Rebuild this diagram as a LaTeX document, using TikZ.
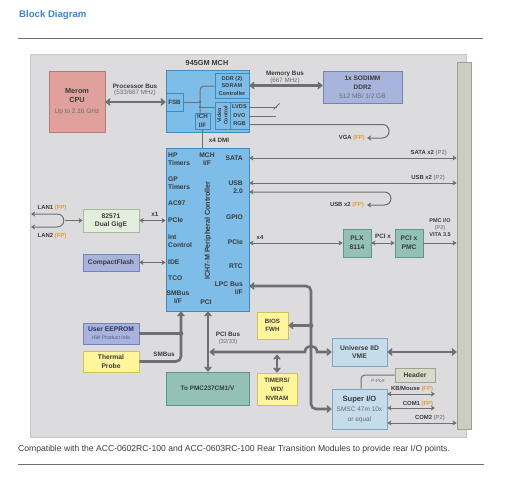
\documentclass[tikz,border=0pt]{standalone}
\usepackage{fontspec}
\setmainfont{Liberation Sans}
\usetikzlibrary{arrows.meta}
\definecolor{txt}{HTML}{3A3A3A}
\definecolor{sub}{HTML}{6B6B6B}
\definecolor{fpc}{HTML}{E49A3C}
\definecolor{ptc}{HTML}{8C8C8C}
\definecolor{ln}{HTML}{6E6F72}
\definecolor{ttl}{HTML}{3D85C6}
\definecolor{panel}{HTML}{DCDCDE}
\definecolor{panelbd}{HTML}{C6C6C8}
\definecolor{barf}{HTML}{CBCDC0}
\definecolor{barbd}{HTML}{9FA195}
\definecolor{cpuf}{HTML}{E0A19D}
\definecolor{cpubd}{HTML}{B57A76}
\definecolor{ichf}{HTML}{7DBDE8}
\definecolor{ichbd}{HTML}{3F8DBE}
\definecolor{lavf}{HTML}{A8B4DC}
\definecolor{lavbd}{HTML}{7483B4}
\definecolor{grnf}{HTML}{E4EEDD}
\definecolor{grnbd}{HTML}{A9B8A2}
\definecolor{yelf}{HTML}{FFF59A}
\definecolor{yelbd}{HTML}{CFC062}
\definecolor{tealf}{HTML}{93C2B5}
\definecolor{tealbd}{HTML}{5F9686}
\definecolor{lbf}{HTML}{C4DCEC}
\definecolor{lbbd}{HTML}{7FA6C0}
\definecolor{hdrf}{HTML}{D8DBCB}
\definecolor{hdrbd}{HTML}{9EA290}
\newcommand\FPtag{{\color{fpc}(FP)}}
\newcommand\PTtag{{\color{ptc}(P2)}}
\begin{document}
\begin{tikzpicture}[x=1pt,y=-1pt,
  blk/.style={draw, line width=0.8pt, inner sep=0pt, align=center, text=txt,
    font=\fontsize{6.7}{8}\selectfont\bfseries},
  ichtxt/.style={inner sep=0pt, text=txt, font=\fontsize{6.7}{8}\selectfont\bfseries},
  lab/.style={inner sep=0pt, text=txt, align=center, font=\fontsize{5.9}{7}\selectfont\bfseries},
  thn/.style={draw=ln, line width=1pt},
  thk/.style={draw=ln, line width=2.6pt},
  tp/.tip={Stealth[length=4pt,width=5pt,inset=1pt]},
  tT/.tip={Stealth[length=6pt,width=9.5pt,inset=2pt,round]},
]
\useasboundingbox (0,0) rectangle (507,479);
% header / footer
\node[anchor=west, inner sep=0pt, text=ttl, font=\fontsize{9.6}{11}\selectfont\bfseries] (title) at (19,15) {Block Diagram};
\coordinate (r1a) at (18,38); \coordinate (r1b) at (483,38);
\draw[ln, line width=1pt] (r1a) -- (r1b);
\node[anchor=west, inner sep=0pt, text=txt, font=\fontsize{8.6}{10}\selectfont] (caption) at (18,449) {Compatible with the ACC-0602RC-100 and ACC-0603RC-100 Rear Transition Modules to provide rear I/O points.};
\coordinate (r2a) at (18,464); \coordinate (r2b) at (484,464);
\draw[ln, line width=1pt] (r2a) -- (r2b);
% panel and backplane bar
\node[draw=panelbd, fill=panel, line width=0.8pt, minimum width=436pt, minimum height=383pt, inner sep=0pt] (panel) at (248,245.5) {};
\node[draw=barbd, fill=barf, line width=0.8pt, minimum width=14pt, minimum height=367pt, inner sep=0pt] (bar) at (464,245.5) {};
% CPU
\node[blk, draw=cpubd, fill=cpuf, minimum width=56pt, minimum height=61pt, font=\fontsize{7.3}{9}\selectfont\bfseries] (cpu) at (77,102)
  {Merom\\CPU\\[2pt]\fontsize{6.5}{8}\selectfont\mdseries\color{sub}Up to 2.16 GHz};
% MCH
\node[blk, draw=ichbd, fill=ichf, minimum width=83pt, minimum height=62pt] (mch) at (207.5,101) {};
\node[lab, font=\fontsize{7.3}{8}\selectfont\bfseries] (mchlbl) at (207,63) {945GM MCH};
\node[blk, draw=ichbd, fill=ichf, minimum width=17pt, minimum height=18pt, font=\fontsize{6.2}{7}\selectfont\bfseries] (fsb) at (174.5,102) {FSB};
\node[blk, draw=ichbd, fill=ichf, minimum width=34pt, minimum height=25pt, font=\fontsize{5.6}{7.5}\selectfont\bfseries] (ddr) at (232,85.5) {DDR (2)\\SDRAM\\Controller};
\node[blk, draw=ichbd, fill=ichf, minimum width=15pt, minimum height=27pt] (video) at (222.5,115.5) {};
\node[lab, rotate=90, font=\fontsize{5.3}{6.3}\selectfont\bfseries] (videotxt) at (222.5,115.5) {Video\\Control};
\node[blk, draw=ichbd, fill=ichf, minimum width=19pt, minimum height=27pt, font=\fontsize{5.6}{8.5}\selectfont\bfseries] (vout) at (239.5,115.5) {LVDS\\DVO\\RGB};
\node[blk, draw=ichbd, fill=ichf, minimum width=15pt, minimum height=16pt, font=\fontsize{6.2}{8.5}\selectfont\bfseries] (ichif) at (202.5,121) {ICH\\I/F};
% MCH internal wiring
\coordinate (j1) at (200,102); \coordinate (j2) at (200,107);
\draw[thn] (fsb.east) -- (j1);
\draw[thn, rounded corners=4pt] (ddr.west |- 0,86) -- (200,86) -- (ichif.north -| j1);
\draw[thn] (j2) -- (video.west |- j2);
\fill[ln] (j1) circle (1.4); \fill[ln] (j2) circle (1.4);
% SODIMM
\node[blk, draw=lavbd, fill=lavf, minimum width=79pt, minimum height=32pt, font=\fontsize{6.5}{9}\selectfont\bfseries] (sodimm) at (362.5,87)
  {1x SODIMM\\DDR2\\{\mdseries\color{sub}512 MB/ 1/2 GB}};
% ICH7
\node[blk, draw=ichbd, fill=ichf, minimum width=83pt, minimum height=163pt] (ich7) at (207.5,229.5) {};
\node[ichtxt, rotate=90, font=\fontsize{7.2}{8}\selectfont\bfseries] (ichname) at (208,230.5) {ICH7-M Peripheral Controller};
\node[ichtxt, anchor=west, align=left] (t1) at (168,159) {HP\\Timers};
\node[ichtxt, anchor=west, align=left] (t2) at (168,183) {GP\\Timers};
\node[ichtxt, anchor=west] (t3) at (168,203) {AC97};
\node[ichtxt, anchor=west] (t4) at (168,220.5) {PCIe};
\node[ichtxt, anchor=west, align=left] (t5) at (168,241) {Int\\Control};
\node[ichtxt, anchor=west] (t6) at (168,262.5) {IDE};
\node[ichtxt, anchor=west] (t7) at (168,278) {TCO};
\node[ichtxt, align=center] (t8) at (178,297) {SMBus\\I/F};
\node[ichtxt, align=center] (t9) at (207,159) {MCH\\I/F};
\node[ichtxt] (t10) at (206,302) {PCI};
\node[ichtxt, anchor=east] (t11) at (243,158) {SATA};
\node[ichtxt, anchor=east, align=right] (t12) at (243,187.5) {USB\\2.0};
\node[ichtxt, anchor=east] (t13) at (243,217) {GPIO};
\node[ichtxt, anchor=east] (t14) at (243,242) {PCIe};
\node[ichtxt, anchor=east] (t15) at (243,266.5) {RTC};
\node[ichtxt, anchor=east, align=right] (t16) at (243,288) {LPC Bus\\I/F};
% left devices
\node[blk, draw=grnbd, fill=grnf, minimum width=56pt, minimum height=23pt] (gige) at (111,220.5) {82571\\Dual GigE};
\node[blk, draw=lavbd, fill=lavf, minimum width=56pt, minimum height=17pt] (cf) at (111,262.5) {CompactFlash};
\node[blk, draw=lavbd, fill=lavf, minimum width=56pt, minimum height=21pt] (eeprom) at (111,333.5)
  {{\color{txt!80!blue}User EEPROM}\\{\fontsize{5.2}{6}\selectfont\mdseries\color{sub!80!blue}HW Product Info}};
\node[blk, draw=yelbd, fill=yelf, minimum width=56pt, minimum height=21pt, font=\fontsize{6.7}{9}\selectfont\bfseries] (thermal) at (111,361.5) {Thermal\\Probe};
\node[blk, draw=tealbd, fill=tealf, minimum width=83pt, minimum height=33pt, font=\fontsize{6.4}{8}\selectfont\bfseries] (pmc) at (207.5,388.5) {To PMC237CM1/V};
% right devices
\node[blk, draw=tealbd, fill=tealf, minimum width=28pt, minimum height=28pt, font=\fontsize{6.7}{9}\selectfont\bfseries] (plx) at (357,243) {PLX\\8114};
\node[blk, draw=tealbd, fill=tealf, minimum width=28pt, minimum height=28pt, font=\fontsize{6.7}{9}\selectfont\bfseries] (pmcx) at (409,243) {PCI x\\PMC};
\node[blk, draw=yelbd, fill=yelf, minimum width=31pt, minimum height=27pt, font=\fontsize{6.2}{8.5}\selectfont\bfseries] (bios) at (272.5,325.5) {BIOS\\FWH};
\node[blk, draw=yelbd, fill=yelf, minimum width=40pt, minimum height=32pt, font=\fontsize{6.2}{9}\selectfont\bfseries] (timers) at (277,389) {TIMERS/\\WD/\\NVRAM};
\node[blk, draw=lbbd, fill=lbf, minimum width=55pt, minimum height=28pt] (univ) at (359.5,352) {Universe IID\\VME};
\node[blk, draw=hdrbd, fill=hdrf, minimum width=40pt, minimum height=14pt] (hdr) at (415,375) {Header};
\node[blk, draw=lbbd, fill=lbf, minimum width=55pt, minimum height=40pt, font=\fontsize{6.5}{10}\selectfont\mdseries] (sio) at (359.5,409)
  {{\fontsize{7.6}{10}\selectfont\bfseries Super I/O}\\{\color{sub}SMSC 47m 10x}\\{\color{sub}or equal}};
% thick buses
\draw[thk, tT-tT] (cpu.east |- fsb.west) -- (fsb.west);
\node[lab, font=\fontsize{6.3}{7}\selectfont\bfseries] (pbus) at (135,86) {Processor Bus};
\node[lab, font=\fontsize{6.3}{7}\selectfont, text=sub] (pbus2) at (135,93) {(533/667 MHz)};
\draw[thk, tT-tT] (ddr.east) -- (ddr.east -| sodimm.west);
\node[lab, font=\fontsize{6.3}{7}\selectfont\bfseries] (mbus) at (285,73.5) {Memory Bus};
\node[lab, font=\fontsize{6.3}{7}\selectfont, text=sub] (mbus2) at (285,81) {(667 MHz)};
% LPC bus
\coordinate (lpcA) at (311,286); \coordinate (lpcB) at (311,409); \coordinate (lpcJ) at (311,325.5);
\draw[thk, tT-tT, rounded corners=5pt] (ich7.east |- lpcA) -- (lpcA) -- (lpcB) -- (sio.west);
\draw[thk, -tT] (lpcJ) -- (bios.east);
\fill[ln] (lpcJ) circle (2.4);
% PCI bus
\coordinate (pciT) at (208,311); \coordinate (pciJ) at (209.6,352);
\draw[thk, tT-tT] (ich7.south -| pciT) -- (pmc.north -| pciT);
\coordinate (hopA) at (305,352); \coordinate (hopB) at (317,352);
\draw[thk, tT-tT] (pciJ) -- (hopA) .. controls (305,344) and (317,344) .. (hopB) -- (univ.west);
\node[lab, font=\fontsize{6.3}{7}\selectfont\bfseries] (pcib) at (228,334) {PCI Bus};
\node[lab, font=\fontsize{5.8}{7}\selectfont, text=sub] (pcib2) at (228,342) {(32/33)};
\coordinate (tmT) at (277,354.5);
\draw[thk, tT-tT] (tmT) -- (timers.north);
\draw[thk, tT-tT] (univ.east) -- (univ.east -| bar.west);
% SMBus
\coordinate (smJ) at (181,333.5); \coordinate (smC) at (181,361.5); \coordinate (smT) at (181,311);
\draw[thk] (eeprom.east) -- (smJ);
\draw[thk, -tT, rounded corners=5pt] (thermal.east) -- (smC) -- (ich7.south -| smT);
\fill[ln] (smJ) circle (2.4);
\node[lab, font=\fontsize{6.3}{7}\selectfont\bfseries] (smlbl) at (164,354) {SMBus};
% MCH thin outputs
\draw[thn] (ichif.south) -- (ichif.south |- ich7.north);
\node[lab, font=\fontsize{6.3}{7}\selectfont\bfseries] (dmi) at (219,140) {x4 DMI};
\coordinate (lvE) at (277,107); \coordinate (dvE) at (276,116);
\coordinate (sl1) at (273.5,109.5); \coordinate (sl2) at (279.5,103.5);
\draw[thn] (vout.east |- lvE) -- (lvE);
\draw[thn] (sl1) -- (sl2);
\draw[thn] (vout.east |- dvE) -- (dvE);
\coordinate (rgbA) at (389,124.5); \coordinate (rgbB) at (389,138); \coordinate (rgbE) at (367,138);
\draw[thn, -tp, rounded corners=6.5pt] (vout.east |- rgbA) -- (rgbA) -- (rgbB) -- (rgbE);
\node[lab, anchor=east] (vga) at (365,138) {VGA \FPtag};
% ICH right side
\coordinate (sata) at (0,158); \coordinate (usb1) at (0,183);
\draw[thn, tp-tp] (ich7.east |- sata) -- (bar.west |- sata);
\node[lab, anchor=east] (satal) at (447,152.5) {SATA x2 \PTtag};
\draw[thn, tp-tp] (ich7.east |- usb1) -- (bar.west |- usb1);
\node[lab, anchor=east] (usbl) at (445,177.5) {USB x2 \PTtag};
\coordinate (usbA) at (391,192); \coordinate (usbB) at (391,205); \coordinate (usbE) at (367,205);
\draw[thn, tp-tp, rounded corners=6.5pt] (ich7.east |- usbA) -- (usbA) -- (usbB) -- (usbE);
\node[lab, anchor=east] (usbfl) at (364,205) {USB x2 \FPtag};
\draw[thn, tp-tp] (ich7.east |- plx.west) -- (plx.west);
\node[lab] (x4l) at (260,237) {x4};
\draw[thn, tp-tp] (plx.east) -- (pmcx.west);
\node[lab, font=\fontsize{6.3}{7}\selectfont\bfseries] (pcixl) at (383,236) {PCI x};
\draw[thn, -tp] (pmcx.east) -- (pmcx.east -| bar.west);
\node[lab, font=\fontsize{5.5}{7}\selectfont\bfseries] (pmcio) at (440,228) {PMC I/O\\\PTtag\\VITA 3.5};
% left side
\coordinate (lan1) at (31,214); \coordinate (lan1b) at (57,214);
\coordinate (lan2) at (31,227); \coordinate (lan2b) at (57,227);
\coordinate (lanM) at (64.5,220.5);
\draw[thn, tp-tp] (lan1) -- (lan1b) .. controls (66,214) and (66,227) .. (lan2b) -- (lan2);
\draw[thn, -tp] (lanM) -- (gige.west);
\node[lab] (lan1l) at (52,207.5) {LAN1 \FPtag};
\node[lab] (lan2l) at (52,236) {LAN2 \FPtag};
\draw[thn, tp-tp] (gige.east) -- (ich7.west |- gige.east);
\node[lab, font=\fontsize{6.3}{7}\selectfont\bfseries] (x1l) at (155,214) {x1};
\draw[thn, tp-tp] (cf.east) -- (ich7.west |- cf.east);
% Super I/O side
\coordinate (ppA) at (361,375);
\draw[thn, rounded corners=4pt] (sio.north -| ppA) -- (ppA) -- (hdr.west);
\node[lab, font=\fontsize{4.7}{5}\selectfont, text=sub] (ppl) at (378,380.5) {P-Port};
\coordinate (kbE) at (435,394); \coordinate (c1E) at (435,408); \coordinate (c2) at (0,423);
\draw[thn, tp-tp] (sio.east |- kbE) -- (kbE);
\node[lab] (kbl) at (412,389) {KB/Mouse \FPtag};
\draw[thn, tp-tp] (sio.east |- c1E) -- (c1E);
\node[lab] (c1l) at (418,403.5) {COM1 \FPtag};
\draw[thn, tp-tp] (sio.east |- c2) -- (bar.west |- c2);
\node[lab] (c2l) at (430,417.5) {COM2 \PTtag};
\end{tikzpicture}
\end{document}
